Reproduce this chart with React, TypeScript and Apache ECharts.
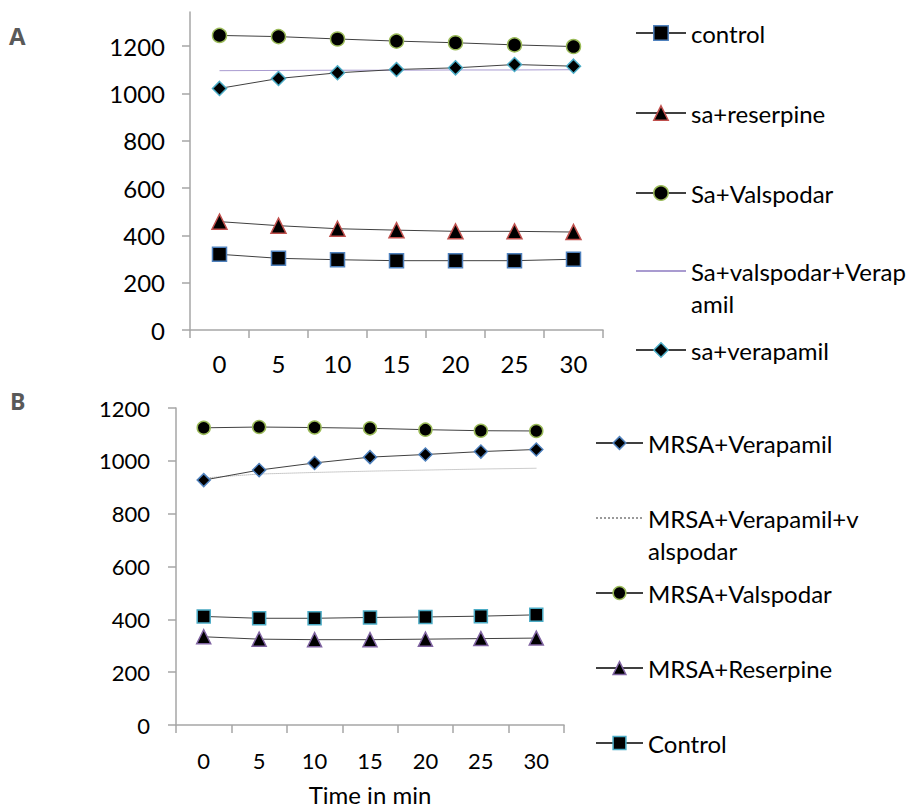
import React, { useEffect, useRef } from "react";
import * as echarts from "echarts";

const categories = ["0", "5", "10", "15", "20", "25", "30"];
const yTicksA = [0, 200, 400, 600, 800, 1000, 1200];
const yTicksB = [0, 200, 400, 600, 800, 1000, 1200];

// Panel A
const aControl = [320, 303, 297, 293, 293, 293, 299];
const aReserpine = [458, 441, 428, 422, 417, 417, 414];
const aValspodar = [1245, 1240, 1230, 1221, 1214, 1205, 1198];
const aValVera = [1096, 1097, 1098, 1098, 1099, 1099, 1100];
const aVerapamil = [1021, 1063, 1087, 1101, 1108, 1122, 1115];

// Panel B
const bVerapamil = [927, 965, 992, 1014, 1024, 1035, 1043];
const bValVera = [935, 950, 956, 961, 965, 969, 972];
const bValspodar = [1125, 1128, 1126, 1123, 1118, 1114, 1113];
const bReserpine = [334, 325, 323, 323, 325, 327, 329];
const bControl = [411, 404, 404, 407, 409, 412, 417];

const FONT = "Lato";
const AXIS_COLOR = "#A6A6A6";
const LINE_COLOR = "#404040";

function markerSeries(name: string, data: number[], idx: number, symbol: string, size: number, border: string) {
  return {
    name,
    type: "line",
    xAxisIndex: idx,
    yAxisIndex: idx,
    data,
    symbol,
    symbolSize: size,
    lineStyle: { color: LINE_COLOR, width: 1 },
    itemStyle: { color: "#000", borderColor: border, borderWidth: 1.5 },
    z: 3,
  };
}

function plainSeries(name: string, data: number[], idx: number, color: string, type: string) {
  return {
    name,
    type: "line",
    xAxisIndex: idx,
    yAxisIndex: idx,
    data,
    symbol: "circle",
    symbolSize: 0,
    showSymbol: false,
    lineStyle: { color, width: 1, type },
    itemStyle: { color },
    z: 2,
  };
}

function legendItem(
  name: string,
  left: number,
  top: number,
  itemWidth: number,
  itemHeight: number,
  label: string | null,
  border: string | null
) {
  const multi = label !== null;
  return {
    data: [name],
    left,
    top: multi ? top - 48 : top - 16,
    orient: "vertical",
    padding: 0,
    itemWidth,
    itemHeight,
    selectedMode: false,
    formatter: multi ? () => " \n" + label : undefined,
    itemStyle:
      border === null
        ? { color: "transparent", borderWidth: 0, borderColor: "transparent" }
        : { color: "#000", borderColor: border, borderWidth: 1.5 },
    textStyle: {
      fontFamily: FONT,
      fontSize: 24,
      color: "#000",
      lineHeight: 32,
    },
  };
}

export default function App() {
  const ref = useRef<HTMLDivElement>(null);

  useEffect(() => {
    document.body.style.margin = "0";
    if (!ref.current) return;
    const chart = echarts.init(ref.current, null, { renderer: "svg" });

    const xAxisBase = (idx: number, fontSize: number, margin: number) => ({
      type: "category",
      gridIndex: idx,
      data: categories,
      boundaryGap: true,
      axisLine: { lineStyle: { color: AXIS_COLOR, width: 1.5 } },
      axisTick: { show: true, length: 8, lineStyle: { color: AXIS_COLOR, width: 1.5 } },
      axisLabel: { color: "#000", fontFamily: FONT, fontSize, margin },
      splitLine: { show: false },
    });

    const plain = (v: number) => String(v);

    const option = {
      animation: false,
      backgroundColor: "#fff",
      grid: [
        { left: 190, top: 12, width: 413, height: 318 },
        { left: 176, top: 408, width: 388, height: 318 },
      ],
      xAxis: [
        xAxisBase(0, 24, 21),
        {
          ...xAxisBase(1, 22, 24),
          name: "Time in min",
          nameLocation: "middle",
          nameGap: 57,
          nameTextStyle: { color: "#000", fontFamily: FONT, fontSize: 24 },
        },
      ],
      yAxis: [
        {
          type: "value",
          gridIndex: 0,
          min: 0,
          max: 1344,
          axisLine: { show: true, lineStyle: { color: AXIS_COLOR, width: 1.5 } },
          axisTick: { show: true, length: 8, lineStyle: { color: AXIS_COLOR, width: 1.5 }, customValues: yTicksA },
          axisLabel: { color: "#000", fontFamily: FONT, fontSize: 24, margin: 25, customValues: yTicksA, formatter: plain },
          splitLine: { show: false },
        },
        {
          type: "value",
          gridIndex: 1,
          min: 0,
          max: 1200,
          interval: 200,
          axisLine: { show: true, lineStyle: { color: AXIS_COLOR, width: 1.5 } },
          axisTick: { show: true, length: 8, lineStyle: { color: AXIS_COLOR, width: 1.5 }, customValues: yTicksB },
          axisLabel: { color: "#000", fontFamily: FONT, fontSize: 22, margin: 26, customValues: yTicksB, formatter: plain },
          splitLine: { show: false },
        },
      ],
      legend: [
        legendItem("control", 635, 33, 50, 18, null, "#4F81BD"),
        legendItem("sa+reserpine", 635, 113, 50, 18, null, "#C0504D"),
        legendItem("Sa+Valspodar", 635, 193, 50, 18, null, "#9BBB59"),
        legendItem("Sa+valspodar+Verapamil", 635, 271, 50, 18, "Sa+valspodar+Verap\namil", null),
        legendItem("sa+verapamil", 635, 350, 50, 18, null, "#4BACC6"),
        legendItem("MRSA+Verapamil", 595, 443, 47, 16, null, "#4F81BD"),
        legendItem("MRSA+Verapamil+valspodar", 595, 518, 47, 16, "MRSA+Verapamil+v\nalspodar", null),
        legendItem("MRSA+Valspodar", 595, 593, 47, 16, null, "#9BBB59"),
        legendItem("MRSA+Reserpine", 595, 668, 47, 16, null, "#8064A2"),
        legendItem("Control", 595, 743, 47, 16, null, "#4BACC6"),
      ],
      graphic: [
        { type: "text", left: 9, top: 23, style: { text: "A", fontFamily: "Open Sans", fontWeight: "bold", fontSize: 24, fill: "#595959" } },
        { type: "text", left: 10, top: 389, style: { text: "B", fontFamily: "Open Sans", fontWeight: "bold", fontSize: 23, fill: "#595959" } },
      ],
      series: [
        markerSeries("control", aControl, 0, "rect", 14, "#4F81BD"),
        markerSeries("sa+reserpine", aReserpine, 0, "triangle", 15, "#C0504D"),
        markerSeries("Sa+Valspodar", aValspodar, 0, "circle", 14, "#9BBB59"),
        plainSeries("Sa+valspodar+Verapamil", aValVera, 0, "#A99BD0", "solid"),
        markerSeries("sa+verapamil", aVerapamil, 0, "diamond", 14, "#4BACC6"),
        markerSeries("MRSA+Verapamil", bVerapamil, 1, "diamond", 13, "#4F81BD"),
        plainSeries("MRSA+Verapamil+valspodar", bValVera, 1, "#9A9A9A", "dotted"),
        markerSeries("MRSA+Valspodar", bValspodar, 1, "circle", 13, "#9BBB59"),
        markerSeries("MRSA+Reserpine", bReserpine, 1, "triangle", 14, "#8064A2"),
        markerSeries("Control", bControl, 1, "rect", 13, "#4BACC6"),
      ],
    };

    chart.setOption(option as any);
    return () => chart.dispose();
  }, []);

  return <div ref={ref} style={{ width: 922, height: 807 }} />;
}
